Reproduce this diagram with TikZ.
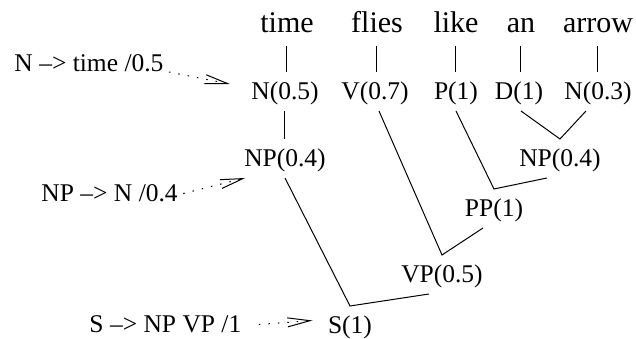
\documentclass[tikz,border=0pt]{standalone}
\usepackage{fontspec}
\setmainfont{Liberation Serif}
\usetikzlibrary{shapes,arrows.meta}

\begin{document}
\begin{tikzpicture}[x=0.4pt,y=-0.4pt]
			\tikzstyle{Word}	= [font=\fontsize{12pt}{14pt}\selectfont, inner xsep=2pt, inner ysep=5pt, text height=8pt, text depth=0pt, anchor=base]
			\tikzstyle{Cat}		= [font=\fontsize{10.2pt}{12pt}\selectfont, inner xsep=2pt, inner ysep=4.2pt, text height=6.8pt, text depth=0pt, anchor=base]
			\tikzstyle{Rule}	= [Cat, anchor=base west]
			\tikzstyle{Edge}	= [black, line width=0.4pt]
			\tikzstyle{Apply}	= [black, line width=0.4pt, dash pattern=on 0.6pt off 3.2pt, -{Straight Barb[length=9pt,width=3.6pt]}]

			\useasboundingbox (0,0) rectangle (636,339);

			\node (w1) at (287,33) [Word] {time};
			\node (w2) at (377,33) [Word] {flies};
			\node (w3) at (456,33) [Word] {like};
			\node (w4) at (521,33) [Word] {an};
			\node (w5) at (598,33) [Word] {arrow};

			\node (n1) at (285,100) [Cat] {N(0.5)};
			\node (v1) at (375,100) [Cat] {V(0.7)};
			\node (p1) at (456,100) [Cat] {P(1)};
			\node (d1) at (519,100) [Cat] {D(1)};
			\node (n2) at (598,100) [Cat] {N(0.3)};
			\node (np1) at (285,167) [Cat] {NP(0.4)};
			\node (np2) at (560,167) [Cat] {NP(0.4)};
			\node (pp) at (494,217) [Cat] {PP(1)};
			\node (vp) at (442,283) [Cat] {VP(0.5)};
			\node (s) at (350,334) [Cat] {S(1)};

			\node (r1) at (9,72) [Rule] {N –> time /0.5};
			\node (r2) at (36,202) [Rule] {NP –> N /0.4};
			\node (r3) at (84,333) [Rule] {S –> NP VP /1};

			\draw [-] (w1.south) to (w1.south |- n1.north) [Edge];
			\draw [-] (w2.south) to (w2.south |- v1.north) [Edge];
			\draw [-] (w3.south) to (w3.south |- p1.north) [Edge];
			\draw [-] (w4.south) to (w4.south |- d1.north) [Edge];
			\draw [-] (w5.south) to (w5.south |- n2.north) [Edge];
			\draw [-] (n1.south) to (np1.north) [Edge];

			\draw [Edge] ([xshift=0.8pt]d1.south) -- (np2.north) -- ([xshift=-4.8pt]n2.south);
			\draw [Edge] (p1.south) -- (pp.north) -- ([xshift=-5.2pt]np2.south);
			\draw [Edge] ([xshift=1.6pt]v1.south) -- (vp.north) -- ([xshift=-4.4pt]pp.south);
			\draw [Edge] (np1.south) -- (s.north) -- ([xshift=-5.2pt]vp.south);

			\draw [Apply] (r1.base east) to ([xshift=-6.4pt,yshift=-4.8pt]n1.north west);
			\draw [Apply] (r2.east) to ([xshift=2.6pt]np1.south west);
			\draw [Apply] ([xshift=4.8pt]r3.east) to ([xshift=-4pt,yshift=2pt]s.west);
\end{tikzpicture}
\end{document}
